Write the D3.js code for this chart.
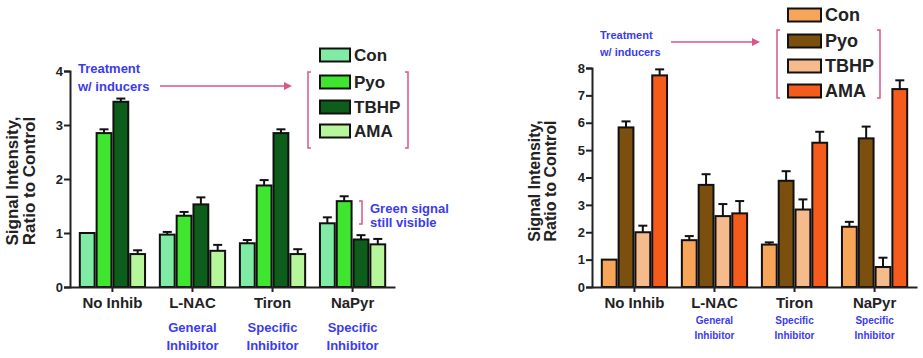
<!DOCTYPE html>
<html><head><meta charset="utf-8">
<script src="https://cdn.jsdelivr.net/npm/d3@7"></script>
<style>
html,body{margin:0;padding:0;background:#fff;}
svg{display:block;font-family:"Liberation Sans",Arial,sans-serif;font-weight:bold;}
</style></head>
<body>
<svg id="chart" width="923" height="358"></svg>
<script>
// ---- data ----
const categories = ["No Inhib", "L-NAC", "Tiron", "NaPyr"];
const subLabels = [[], ["General", "Inhibitor"], ["Specific", "Inhibitor"], ["Specific", "Inhibitor"]];
const seriesNames = ["Con", "Pyo", "TBHP", "AMA"];

const leftTicks = [0, 1, 2, 3, 4];
const leftCon = [1.00, 0.97, 0.81, 1.18];
const leftConErr = [0.00, 0.05, 0.06, 0.11];
const leftPyo = [2.85, 1.32, 1.88, 1.59];
const leftPyoErr = [0.07, 0.07, 0.10, 0.09];
const leftTBHP = [3.43, 1.53, 2.85, 0.88];
const leftTBHPErr = [0.06, 0.13, 0.07, 0.08];
const leftAMA = [0.61, 0.67, 0.61, 0.79];
const leftAMAErr = [0.07, 0.11, 0.09, 0.10];

const rightTicks = [0, 1, 2, 3, 4, 5, 6, 7, 8];
const rightCon = [1.00, 1.71, 1.55, 2.20];
const rightConErr = [0.00, 0.15, 0.08, 0.18];
const rightPyo = [5.83, 3.73, 3.88, 5.43];
const rightPyoErr = [0.22, 0.39, 0.35, 0.43];
const rightTBHP = [2.00, 2.59, 2.83, 0.73];
const rightTBHPErr = [0.24, 0.44, 0.37, 0.34];
const rightAMA = [7.73, 2.69, 5.27, 7.23];
const rightAMAErr = [0.22, 0.45, 0.40, 0.32];

const leftColors = ["#80eba4", "#3fe52f", "#0d5e1a", "#b6f79c"];
const rightColors = ["#f7a659", "#7b4f0e", "#f6bb8c", "#f55b1b"];

const svg = d3.select("#chart");
const BLUE = "#3b3bf0", PINK = "#d9558a";

function drawPanel(o) {
  const g = svg.append("g");
  const y = d3.scaleLinear().domain(o.domain).range([287, o.yTop]);
  const x0 = d3.scaleBand().domain(categories).range([o.x0, o.x1]).paddingInner(0.16).paddingOuter(0.11);
  const x1 = d3.scaleBand().domain(seriesNames).range([0, x0.bandwidth()]).padding(0);
  const series = [o.con, o.pyo, o.tbhp, o.ama];
  const errs = [o.conErr, o.pyoErr, o.tbhpErr, o.amaErr];

  const data = [];
  categories.forEach((c, i) => seriesNames.forEach((s, j) => data.push({c, s, j, v: series[j][i], e: errs[j][i]})));

  // error bars (upper only)
  const eb = g.append("g");
  data.filter(d => d.e > 0).forEach(d => {
    const cx = x0(d.c) + x1(d.s) + x1.bandwidth() / 2;
    eb.append("line").attr("x1", cx).attr("x2", cx).attr("y1", y(d.v)).attr("y2", y(d.v + d.e)).attr("stroke", "#111").attr("stroke-width", 2);
    eb.append("line").attr("x1", cx - 4.5).attr("x2", cx + 4.5).attr("y1", y(d.v + d.e)).attr("y2", y(d.v + d.e)).attr("stroke", "#111").attr("stroke-width", 2);
  });

  g.selectAll("rect.bar").data(data).join("rect").attr("class", "bar")
    .attr("x", d => x0(d.c) + x1(d.s) + 1)
    .attr("width", x1.bandwidth() - 2)
    .attr("y", d => y(d.v))
    .attr("height", d => y(0) - y(d.v))
    .attr("fill", d => o.colors[d.j])
    .attr("stroke", "#111").attr("stroke-width", 2);

  // y axis
  const ya = g.append("g").attr("transform", `translate(${o.x0},0)`)
    .call(d3.axisLeft(y).tickValues(o.ticks).tickSize(6).tickSizeOuter(6).tickFormat(d3.format("d")));
  ya.select(".domain").attr("stroke", "#222").attr("stroke-width", 2);
  ya.selectAll(".tick line").attr("stroke", "#222").attr("stroke-width", 2);
  ya.selectAll(".tick text").attr("font-size", 13).attr("font-weight", "bold").attr("fill", "#222")
    .attr("font-family", "Liberation Sans, Arial, sans-serif").attr("x", -7);

  // x axis
  const xa = g.append("g").attr("transform", `translate(0,${y(0)})`)
    .call(d3.axisBottom(x0).tickSize(5).tickSizeOuter(0));
  xa.select(".domain").attr("stroke", "#222").attr("stroke-width", 2);
  xa.selectAll(".tick line").attr("stroke", "#222").attr("stroke-width", 2);
  xa.selectAll(".tick text").attr("font-size", 15).attr("font-weight", "bold").attr("fill", "#222")
    .attr("font-family", "Liberation Sans, Arial, sans-serif").attr("dy", 0).attr("y", 21);

  // sub labels
  categories.forEach((c, i) => {
    subLabels[i].forEach((t, k) => {
      g.append("text").attr("x", x0(c) + x0.bandwidth() / 2).attr("y", o.subY[k])
        .attr("text-anchor", "middle").attr("font-size", o.subSize).attr("fill", BLUE).text(t);
    });
  });

  // y title
  const yt = g.append("text").attr("transform", `translate(${o.titleX},181) rotate(-90)`)
    .attr("text-anchor", "middle").attr("font-size", o.titleSize).attr("fill", "#222");
  yt.append("tspan").attr("x", 0).attr("dy", 0).text("Signal Intensity,");
  yt.append("tspan").attr("x", 0).attr("dy", o.titleSize * 1.0).text("Ratio to Control");

  // legend
  const lg = g.append("g");
  seriesNames.forEach((s, j) => {
    lg.append("rect").attr("x", o.legX).attr("y", o.legY[j] - 6.5).attr("width", o.legW).attr("height", 13)
      .attr("fill", o.colors[j]).attr("stroke", "#111").attr("stroke-width", 2);
    lg.append("text").attr("x", o.legX + o.legW + 4).attr("y", o.legY[j] + 6).attr("font-size", o.legSize)
      .attr("fill", "#222").text(s);
  });
  // legend bracket
  const b = o.bracket;
  lg.append("path").attr("d", `M${b.l + 3},${b.t} H${b.l} V${b.b} H${b.l + 3}`).attr("fill", "none").attr("stroke", PINK).attr("stroke-width", 1.5);
  lg.append("path").attr("d", `M${b.r - 3},${b.t} H${b.r} V${b.b} H${b.r - 3}`).attr("fill", "none").attr("stroke", PINK).attr("stroke-width", 1.5);

  // treatment text + arrow
  const tt = o.treat;
  g.append("text").attr("x", tt.x).attr("y", tt.y1).attr("font-size", tt.size).attr("fill", BLUE).text("Treatment");
  g.append("text").attr("x", tt.x).attr("y", tt.y2).attr("font-size", tt.size).attr("fill", BLUE).text("w/ inducers");
  g.append("line").attr("x1", tt.ax1).attr("x2", tt.ax2 - 6).attr("y1", tt.ay).attr("y2", tt.ay).attr("stroke", PINK).attr("stroke-width", 1.5);
  g.append("path").attr("d", `M${tt.ax2},${tt.ay} L${tt.ax2 - 8},${tt.ay - 4} L${tt.ax2 - 8},${tt.ay + 4} Z`).attr("fill", PINK);
  return {g, x0, y};
}

const L = drawPanel({
  domain: [0, 4], yTop: 71, x0: 70, x1: 395, ticks: leftTicks,
  con: leftCon, pyo: leftPyo, tbhp: leftTBHP, ama: leftAMA,
  conErr: leftConErr, pyoErr: leftPyoErr, tbhpErr: leftTBHPErr, amaErr: leftAMAErr,
  colors: leftColors, subY: [332, 350], subSize: 13, titleX: 18, titleSize: 17,
  legX: 320, legW: 30, legY: [55, 82, 107, 131], legSize: 17,
  bracket: {l: 308, r: 408, t: 72, b: 148},
  treat: {x: 78, y1: 73, y2: 91, size: 13, ax1: 160, ax2: 292, ay: 86}
});

const R = drawPanel({
  domain: [0, 8], yTop: 68, x0: 592, x1: 917, ticks: rightTicks,
  con: rightCon, pyo: rightPyo, tbhp: rightTBHP, ama: rightAMA,
  conErr: rightConErr, pyoErr: rightPyoErr, tbhpErr: rightTBHPErr, amaErr: rightAMAErr,
  colors: rightColors, subY: [324, 339], subSize: 10, titleX: 540, titleSize: 16,
  legX: 788, legW: 33, legY: [15, 41, 66, 91], legSize: 18,
  bracket: {l: 777, r: 880, t: 30, b: 98},
  treat: {x: 600, y1: 39, y2: 56, size: 11, ax1: 671, ax2: 760, ay: 42}
});

// "Green signal still visible" annotation (left panel)
svg.append("path").attr("d", "M359,201 H362 V224 H359").attr("fill", "none").attr("stroke", PINK).attr("stroke-width", 1.5);
svg.append("text").attr("x", 370).attr("y", 213).attr("font-size", 13).attr("fill", BLUE).text("Green signal");
svg.append("text").attr("x", 370).attr("y", 227).attr("font-size", 13).attr("fill", BLUE).text("still visible");
</script>
</body></html>
